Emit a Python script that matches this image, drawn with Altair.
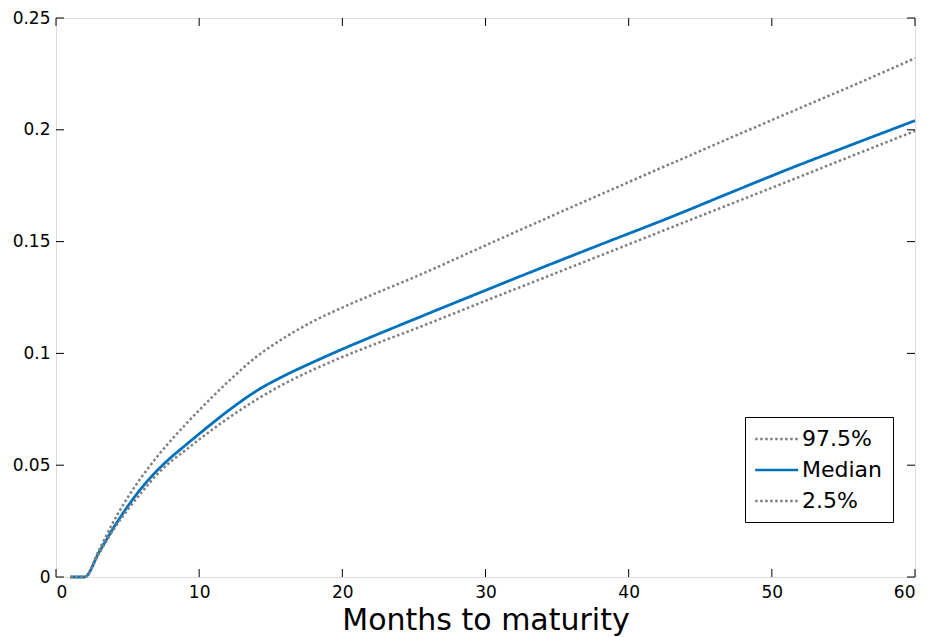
import altair as alt
import pandas as pd

months = [1, 2, 3, 4, 5, 6, 7, 8, 9, 10, 11, 12, 14, 16, 18, 20, 22, 25, 30, 34, 38, 43, 47, 51, 55, 60]
upper = [0, 0, 0.012, 0.0246, 0.0355, 0.0449, 0.0533, 0.0609, 0.0679, 0.0746, 0.0811, 0.0872,
         0.0985, 0.1072, 0.1145, 0.1205, 0.1260, 0.1340, 0.1483, 0.1597, 0.1710, 0.1850, 0.1961,
         0.2071, 0.2180, 0.232]
median = [0, 0, 0.011, 0.0218, 0.0315, 0.0400, 0.0472, 0.0533, 0.0587, 0.0640, 0.0692, 0.0742,
          0.0832, 0.0902, 0.0962, 0.1019, 0.1073, 0.1152, 0.1282, 0.1385, 0.1486, 0.1611, 0.1716,
          0.1820, 0.1919, 0.2041]
lower = [0, 0, 0.0105, 0.021, 0.030, 0.038, 0.0455, 0.0515, 0.0565, 0.0615, 0.0663, 0.0709,
         0.0793, 0.0866, 0.0928, 0.0984, 0.1035, 0.1108, 0.1235, 0.1336, 0.1437, 0.1564, 0.1665,
         0.1766, 0.1868, 0.1995]
series_names = ["97.5%", "Median", "2.5%"]
x_ticks = [0, 10, 20, 30, 40, 50, 60]
y_ticks = [0, 0.05, 0.1, 0.15, 0.2, 0.25]

rows = []
for name, vals in zip(series_names, [upper, median, lower]):
    for m, v in zip(months, vals):
        rows.append({"month": m, "value": v, "series": name})
df = pd.DataFrame(rows)

W, H = 859, 559
FONT = "DejaVu Sans"

xscale = alt.Scale(domain=[0, 60], nice=False, zero=False)
yscale = alt.Scale(domain=[0, 0.25], nice=False)
color_scale = alt.Scale(domain=series_names, range=["#7f7f7f", "#0072BD", "#7f7f7f"])
dash_scale = alt.Scale(domain=series_names, range=[[2.5, 2.5], [1, 0], [2.5, 2.5]])

x_axis = alt.Axis(values=x_ticks, tickSize=0, domain=False, grid=False, labelFont=FONT,
                  labelFontSize=17, labelColor="black", labelPadding=7,
                  title="Months to maturity", titleFont=FONT, titleFontSize=30,
                  titleFontWeight="normal", titleColor="black", titleY=52,
                  titleBaseline="alphabetic")
y_axis = alt.Axis(values=y_ticks, tickSize=0, domain=False, grid=False, labelFont=FONT,
                  labelFontSize=17, labelColor="black", labelPadding=6, format="~g",
                  title=None)

legend = alt.Legend(title=None, orient="none", legendX=689, legendY=399,
                    symbolType="M-1.1,0H2.9", symbolSize=462, symbolStrokeWidth=2.5,
                    labelFont=FONT, labelFontSize=22, labelColor="black", labelOffset=23,
                    rowPadding=8, padding=10, strokeColor="black", fillColor="white",
                    cornerRadius=0)

base = alt.Chart(df).encode(
    x=alt.X("month:Q", scale=xscale, axis=x_axis),
    y=alt.Y("value:Q", scale=yscale, axis=y_axis),
    color=alt.Color("series:N", scale=color_scale, legend=legend, sort=series_names),
    strokeDash=alt.StrokeDash("series:N", scale=dash_scale, legend=legend, sort=series_names),
)

median_layer = base.transform_filter(alt.datum.series == "Median").mark_line(
    strokeWidth=2.8, interpolate="monotone")
band_layer = base.transform_filter(alt.datum.series != "Median").mark_line(
    strokeWidth=2.5, interpolate="monotone")

xt = pd.DataFrame({"t": x_ticks})
yt = pd.DataFrame({"t": y_ticks})
tick_style = dict(color="black", strokeWidth=1)
xb = alt.Chart(xt).mark_rule(**tick_style).encode(
    x=alt.X("t:Q", scale=xscale), y=alt.value(H), y2=alt.value(H - 8))
xtop = alt.Chart(xt).mark_rule(**tick_style).encode(
    x=alt.X("t:Q", scale=xscale), y=alt.value(0), y2=alt.value(8))
yl = alt.Chart(yt).mark_rule(**tick_style).encode(
    y=alt.Y("t:Q", scale=yscale), x=alt.value(0), x2=alt.value(8))
yr = alt.Chart(yt).mark_rule(**tick_style).encode(
    y=alt.Y("t:Q", scale=yscale), x=alt.value(W), x2=alt.value(W - 8))

chart = alt.layer(median_layer, band_layer, xb, xtop, yl, yr).properties(
    width=W, height=H,
    autosize=alt.AutoSizeParams(type="none"),
    padding={"left": 48, "top": 10, "right": 5, "bottom": 60},
).configure_view(stroke="black", strokeWidth=1).configure(background="white")

chart.save("out.html", embed_options={"renderer": "svg", "actions": False})
